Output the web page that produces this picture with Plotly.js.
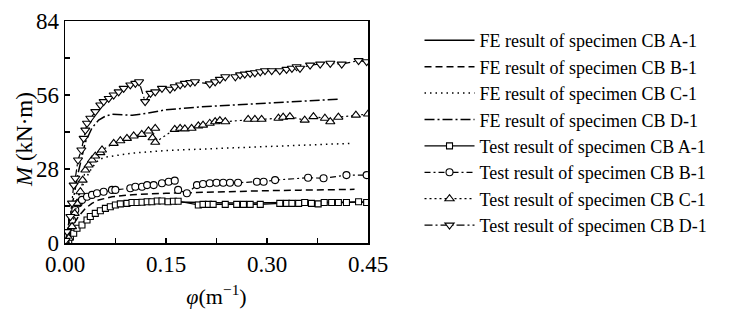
<!DOCTYPE html>
<html>
<head>
<meta charset="utf-8">
<script src="https://cdn.plot.ly/plotly-3.0.1.min.js"></script>
<style>html,body{margin:0;padding:0;background:#fff;}#chart{width:743px;height:320px;}</style>
</head>
<body>
<div id="chart"></div>
<script>
// FE curves
const feA_x = [0, 0.01, 0.02, 0.03, 0.04, 0.05, 0.06, 0.08, 0.10, 0.12, 0.15, 0.20, 0.25, 0.30, 0.35, 0.40, 0.45];
const feA_y = [0, 3.5, 6.0, 8.5, 10.5, 12.0, 13.2, 14.5, 15.2, 15.5, 15.6, 15.3, 15.1, 15.2, 15.3, 15.4, 15.5];
const feB_x = [0, 0.01, 0.02, 0.03, 0.04, 0.05, 0.07, 0.10, 0.15, 0.20, 0.25, 0.30, 0.35, 0.40, 0.43];
const feB_y = [0, 6.0, 10.0, 13.0, 15.0, 16.3, 17.5, 18.3, 18.8, 19.2, 19.5, 19.8, 20.0, 20.2, 20.3];
const feC_x = [0, 0.01, 0.02, 0.03, 0.04, 0.05, 0.06, 0.08, 0.10, 0.15, 0.20, 0.25, 0.30, 0.35, 0.40, 0.425];
const feC_y = [0, 10.0, 18.0, 24.0, 28.5, 31.5, 32.5, 33.3, 34.0, 35.0, 35.6, 36.0, 36.5, 37.0, 37.4, 37.7];
const feD_x = [0, 0.01, 0.02, 0.03, 0.04, 0.05, 0.06, 0.07, 0.08, 0.10, 0.12, 0.15, 0.20, 0.25, 0.30, 0.35, 0.406];
const feD_y = [0, 14.0, 27.0, 38.0, 43.5, 46.5, 48.0, 48.7, 48.5, 48.3, 49.0, 50.4, 51.5, 52.2, 53.0, 53.7, 54.4];

// Test results
const tA_x = [0.002,0.0055,0.008,0.0129,0.0178,0.0252,0.0327,0.0376,0.045,0.0525,0.06,0.0673,0.0748,0.0822,0.092,0.0995,0.107,0.1144,0.122,0.129,0.137,0.144,0.153,0.161,0.168,0.198,0.205,0.213,0.22,0.238,0.255,0.265,0.275,0.29,0.319,0.329,0.337,0.347,0.356,0.366,0.376,0.385,0.396,0.406,0.418,0.436,0.448];
const tA_y = [0,0.5,2.4,3.7,5.6,6.8,8.7,10,11.2,12.2,13.1,13.7,14.4,14.8,15,15.3,15.3,15.4,15.6,15.6,15.9,15.9,15.6,15.8,15.8,14.4,14.6,14.6,14.6,14.6,14.6,14.6,14.6,14.6,15,15,15,15,15.3,15,14.8,15.3,15.3,15.3,15.3,15.6,15.3];
const tB_x = [0.001,0.003,0.0104,0.0153,0.0203,0.0252,0.0327,0.0401,0.0475,0.0574,0.0698,0.0748,0.097,0.1045,0.1144,0.122,0.1317,0.144,0.154,0.163,0.168,0.181,0.196,0.205,0.215,0.225,0.235,0.245,0.257,0.285,0.295,0.312,0.361,0.384,0.418,0.448];
const tB_y = [0,2.4,8.7,12.5,15,16.3,17.5,18.2,18.8,19.4,20.1,20.1,20.7,21.3,21.3,21.9,21.9,22.6,23.2,23.6,20.1,18.8,21.9,22.3,22.6,22.8,22.8,22.8,22.8,23.2,23.2,23.8,24.7,24.5,25.7,25.7];
const tC_x = [0.001,0.0055,0.0104,0.0144,0.0178,0.0228,0.0262,0.0302,0.0351,0.0401,0.045,0.0525,0.055,0.0723,0.0822,0.092,0.102,0.114,0.124,0.134,0.130,0.134,0.163,0.171,0.178,0.188,0.198,0.205,0.215,0.223,0.230,0.238,0.272,0.282,0.292,0.317,0.324,0.334,0.356,0.369,0.386,0.394,0.406,0.432,0.450];
const tC_y = [0,1.8,6.2,11.2,15,19.4,23.8,27.6,29.5,31.4,32.9,34.2,35.2,37.7,38.7,39.6,40.5,41.1,42.4,43.4,39.8,38.1,43.0,43.4,43.2,43.4,44.3,44.6,45.3,45.9,46.3,45.9,46.8,46.8,46.8,47.2,47.6,47.8,46.5,47.8,47.2,45.9,47.6,48.4,48.8];
const tD_x = [0.001,0.003,0.008,0.0104,0.0129,0.0153,0.0193,0.0243,0.0277,0.0302,0.0327,0.0376,0.045,0.0525,0.0574,0.0649,0.0723,0.0797,0.0871,0.097,0.1045,0.110,0.119,0.127,0.134,0.144,0.156,0.163,0.171,0.178,0.186,0.193,0.215,0.223,0.230,0.238,0.253,0.260,0.267,0.275,0.282,0.290,0.297,0.307,0.319,0.329,0.337,0.344,0.349,0.364,0.379,0.394,0.411,0.436,0.448];
const tD_y = [1,4.3,10,15.1,21.9,24.5,31.4,35.2,39.6,42.7,45.3,47.2,49.7,52.2,53.5,54.7,56,57.2,58.5,59.8,60.4,61.0,53.5,56.6,57.2,58.5,58.2,59.1,59.8,60.4,60.7,61,60.2,61,61.9,62.9,62.9,63.6,63.9,64.2,64.4,64.8,65.2,65.2,65.2,65.7,66.1,66.7,66.1,67.3,67.7,68,67.7,69,68.6];

const names = [
  'FE result of specimen CB A-1','FE result of specimen CB B-1',
  'FE result of specimen CB C-1','FE result of specimen CB D-1',
  'Test result of specimen CB A-1','Test result of specimen CB B-1',
  'Test result of specimen CB C-1','Test result of specimen CB D-1'
];
const yTitle = '<i>M</i> (kN·m)';
const xTitle = '<i>φ</i>(m<sup>−1</sup>)';

function fe(x, y, name, dash) {
  return {x: x, y: y, name: name, type: 'scatter', mode: 'lines',
    line: {color: '#000', width: 1.5, dash: dash}};
}
function test(x, y, name, dash, symbol, size) {
  return {x: x, y: y, name: name, type: 'scatter', mode: 'lines+markers',
    line: {color: '#000', width: 1.2, dash: dash},
    marker: {symbol: symbol, size: size, color: '#fff', line: {color: '#000', width: 1.1}}};
}

const data = [
  fe(feA_x, feA_y, names[0], 'solid'),
  fe(feB_x, feB_y, names[1], '7px,4px'),
  fe(feC_x, feC_y, names[2], '1.5px,4px'),
  fe(feD_x, feD_y, names[3], '10px,3px,2px,3px'),
  test(tA_x, tA_y, names[4], 'solid', 'square', 6),
  test(tB_x, tB_y, names[5], '6px,3px,2px,3px', 'circle', 7),
  test(tC_x, tC_y, names[6], '2px,3px', 'triangle-up', 8),
  test(tD_x, tD_y, names[7], '8px,3px,2px,3px', 'triangle-down', 8)
];

const font = "'Liberation Serif', 'Times New Roman', serif";
const layout = {
  width: 743, height: 320,
  margin: {l: 65, r: 375, t: 21, b: 77},
  paper_bgcolor: '#fff', plot_bgcolor: '#fff',
  font: {family: font, color: '#000'},
  showlegend: true,
  legend: {x: 1.17, y: 0.995, xanchor: 'left', yanchor: 'top',
    font: {family: font, size: 18, color: '#000'}, itemwidth: 50,
    bgcolor: 'rgba(0,0,0,0)', borderwidth: 0, tracegroupgap: 0},
  xaxis: {range: [0, 0.45], showgrid: false, zeroline: false,
    showline: true, mirror: true, linecolor: '#000', linewidth: 1.5,
    ticks: 'inside', ticklen: 5, tickwidth: 1.2, tickcolor: '#000',
    tick0: 0, dtick: 0.15, tickformat: '.2f',
    minor: {ticks: 'inside', ticklen: 5, tickwidth: 1.2, tickcolor: '#000', dtick: 0.075, showgrid: false},
    tickfont: {family: font, size: 23, color: '#000'},
    title: {text: xTitle, font: {family: font, size: 22, color: '#000'}, standoff: 12}},
  yaxis: {range: [0, 84], showgrid: false, zeroline: false,
    showline: true, mirror: true, linecolor: '#000', linewidth: 1.5,
    ticks: 'inside', ticklen: 5, tickwidth: 1.2, tickcolor: '#000',
    tick0: 0, dtick: 28,
    minor: {ticks: 'inside', ticklen: 5, tickwidth: 1.2, tickcolor: '#000', dtick: 14, showgrid: false},
    tickfont: {family: font, size: 23, color: '#000'}},
  annotations: [{
    text: yTitle, xref: 'paper', yref: 'paper', x: -0.132, y: 0.464,
    xanchor: 'center', yanchor: 'middle', textangle: -90, showarrow: false,
    font: {family: font, size: 23, color: '#000'}
  }]
};

Plotly.newPlot('chart', data, layout, {displayModeBar: false, staticPlot: true});
</script>
</body>
</html>
